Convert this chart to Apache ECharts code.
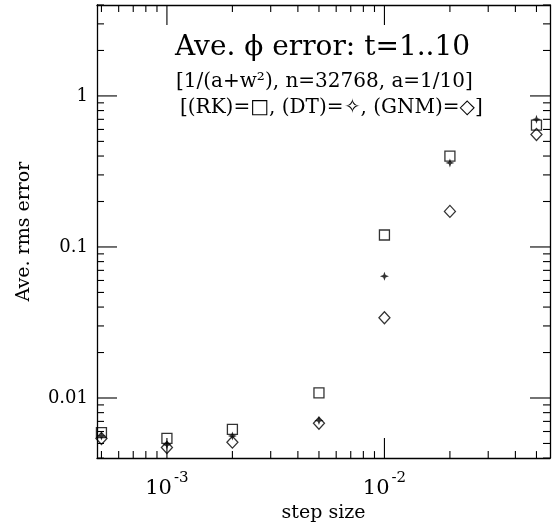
<!DOCTYPE html>
<html>
<head>
<meta charset="utf-8">
<script src="https://cdn.jsdelivr.net/npm/echarts@6/dist/echarts.min.js"></script>
<style>
  html, body { margin: 0; padding: 0; background: #fff; }
  #chart { width: 553px; height: 528px; }
</style>
</head>
<body>
<div id="chart"></div>
<script>
// 步长 (step size) 与三种方法的平均 rms 误差
const stepSizes = [0.0005, 0.001, 0.002, 0.005, 0.01, 0.02, 0.05];
const rkErr  = [0.0059, 0.0054, 0.0062, 0.0108, 0.120, 0.40, 0.64];
const dtErr  = [0.0056, 0.0049, 0.0056, 0.0071, 0.064, 0.36, 0.70];
const gnmErr = [0.0054, 0.0047, 0.0051, 0.0068, 0.034, 0.172, 0.556];

// 坐标轴范围与刻度
const xRange = [0.000477, 0.0577];
const yRange = [0.004, 4];
const xMajorTicks = [0.001, 0.01];
const xMinorTicks = [0.0005, 0.0006, 0.0007, 0.0008, 0.0009,
  0.002, 0.003, 0.004, 0.005, 0.006, 0.007, 0.008, 0.009,
  0.02, 0.03, 0.04, 0.05];
const yMajorTicks = [0.01, 0.1, 1];
const yMinorTicks = [0.004, 0.005, 0.006, 0.007, 0.008, 0.009,
  0.02, 0.03, 0.04, 0.05, 0.06, 0.07, 0.08, 0.09,
  0.2, 0.3, 0.4, 0.5, 0.6, 0.7, 0.8, 0.9, 2, 3, 4];

const serif = "'DejaVu Serif', 'Liberation Serif', serif";
const MAJOR_LEN = 20;
const MINOR_LEN = 7;
const tickStyle = { stroke: '#000', lineWidth: 1.1 };

function pairs(ys) {
  return stepSizes.map((x, i) => [x, ys[i]]);
}

// 用自定义系列画刻度（上下或左右两侧，向内）
function tickSeries(values, dir, len) {
  const data = values.map(v => dir === 'x' ? [v, yRange[0]] : [xRange[0], v]);
  return {
    type: 'custom',
    silent: true,
    z: 1,
    data: data,
    renderItem: function (params, api) {
      let a, b;
      if (dir === 'x') {
        const v = api.value(0);
        a = api.coord([v, yRange[0]]);
        b = api.coord([v, yRange[1]]);
        return {
          type: 'group',
          children: [
            { type: 'line', shape: { x1: a[0], y1: a[1], x2: a[0], y2: a[1] - len }, style: tickStyle },
            { type: 'line', shape: { x1: b[0], y1: b[1], x2: b[0], y2: b[1] + len }, style: tickStyle }
          ]
        };
      }
      const v = api.value(1);
      a = api.coord([xRange[0], v]);
      b = api.coord([xRange[1], v]);
      return {
        type: 'group',
        children: [
          { type: 'line', shape: { x1: a[0], y1: a[1], x2: a[0] + len, y2: a[1] }, style: tickStyle },
          { type: 'line', shape: { x1: b[0], y1: b[1], x2: b[0] - len, y2: b[1] }, style: tickStyle }
        ]
      };
    }
  };
}

function logAxis(range, position, label) {
  return {
    type: 'log',
    logBase: 10,
    position: position,
    min: range[0],
    max: range[1],
    axisLine: { show: true, lineStyle: { color: '#000', width: 1.3 } },
    axisTick: { show: false },
    minorTick: { show: false },
    splitLine: { show: false },
    axisLabel: label || { show: false }
  };
}

const xLabel = {
  show: true,
  customValues: xMajorTicks,
  margin: 13,
  formatter: function (v) {
    const e = Math.round(Math.log10(v));
    return '{b|10}{s|' + e + '}';
  },
  rich: {
    b: { fontFamily: serif, fontSize: 21, color: '#000', verticalAlign: 'bottom', lineHeight: 28 },
    s: { fontFamily: serif, fontSize: 15, color: '#000', verticalAlign: 'top', lineHeight: 28, padding: [0, 0, 10, 2] }
  }
};

const yLabel = {
  show: true,
  customValues: yMajorTicks,
  margin: 9,
  fontFamily: serif,
  fontSize: 18,
  color: '#000',
  formatter: function (v) {
    return String(v);
  }
};

const chartDom = document.getElementById('chart');
const myChart = echarts.init(chartDom);

const option = {
  animation: false,
  backgroundColor: '#fff',
  grid: { left: 97, right: 3, top: 5, bottom: 64 },
  xAxis: [
    Object.assign(logAxis(xRange, 'bottom', xLabel), {
      name: 'step size',
      nameLocation: 'middle',
      nameGap: 44,
      nameTextStyle: { fontFamily: serif, fontSize: 19, color: '#000' }
    }),
    logAxis(xRange, 'top')
  ],
  yAxis: [
    Object.assign(logAxis(yRange, 'left', yLabel), {
      name: 'Ave. rms error',
      nameLocation: 'middle',
      nameGap: 63,
      nameTextStyle: { fontFamily: serif, fontSize: 19, color: '#000' }
    }),
    logAxis(yRange, 'right')
  ],
  graphic: [
    {
      type: 'text', left: 175, top: 34,
      style: { text: 'Ave. ϕ error: t=1..10', font: '28px ' + serif, fill: '#000' }
    },
    {
      type: 'text', left: 176, top: 72,
      style: { text: '[1/(a+w²), n=32768, a=1/10]', font: '20px ' + serif, fill: '#000' }
    },
    {
      type: 'text', left: 180, top: 98,
      style: { text: '[(RK)=□, (DT)=✧, (GNM)=◇]', font: '20px ' + serif, fill: '#000' }
    }
  ],
  series: [
    tickSeries(xMajorTicks, 'x', MAJOR_LEN),
    tickSeries(xMinorTicks, 'x', MINOR_LEN),
    tickSeries(yMajorTicks, 'y', MAJOR_LEN),
    tickSeries(yMinorTicks, 'y', MINOR_LEN),
    {
      name: 'RK',
      type: 'scatter',
      z: 3,
      data: pairs(rkErr),
      symbol: 'rect',
      symbolSize: 10,
      itemStyle: { color: 'rgba(0,0,0,0)', borderColor: '#000', borderWidth: 1.3 }
    },
    {
      name: 'DT',
      type: 'scatter',
      z: 3,
      data: pairs(dtErr),
      symbol: 'path://M0,-5 L1.3,-1.3 L5,0 L1.3,1.3 L0,5 L-1.3,1.3 L-5,0 L-1.3,-1.3 Z',
      symbolSize: 9,
      itemStyle: { color: '#000' }
    },
    {
      name: 'GNM',
      type: 'scatter',
      z: 3,
      data: pairs(gnmErr),
      symbol: 'diamond',
      symbolSize: [11, 12],
      itemStyle: { color: 'rgba(0,0,0,0)', borderColor: '#000', borderWidth: 1.3 }
    }
  ]
};

myChart.setOption(option);
</script>
</body>
</html>
